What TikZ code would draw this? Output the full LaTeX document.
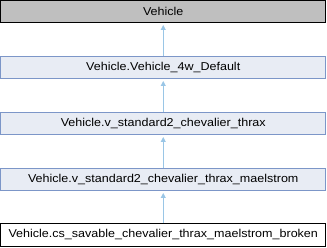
\documentclass[tikz,border=0pt]{standalone}
\usepackage{fontspec}
\setmainfont{Liberation Sans}[FakeStretch=1.1]
\usetikzlibrary{arrows.meta}
\definecolor{classfill}{RGB}{232,236,244}
\definecolor{classedge}{RGB}{124,150,200}
\definecolor{basefill}{RGB}{191,191,191}
\definecolor{inherit}{RGB}{154,198,230}
\begin{document}
\begin{tikzpicture}[x=1pt,y=-1pt,
  cls/.style={draw=classedge, fill=classfill, line width=1pt,
    minimum width=325pt, minimum height=22.5pt, inner sep=0pt,
    font=\fontsize{11.4}{13}\selectfont},
  basecls/.style={cls, draw=black, fill=basefill},
  leafcls/.style={cls, draw=black, fill=white},
  isa/.style={draw=inherit, line width=1pt, shorten >=1.5pt,
    -{Triangle[width=5pt,length=5pt]}}]
\useasboundingbox (0,0) rectangle (327,248);
\node[basecls] (v)  at (163.25,11.75)  {Vehicle};
\node[cls]     (d)  at (163.25,67.75)  {Vehicle.Vehicle\_4w\_Default};
\node[cls]     (t)  at (163.25,123.75) {Vehicle.v\_standard2\_chevalier\_thrax};
\node[cls]     (m)  at (163.25,179.75) {Vehicle.v\_standard2\_chevalier\_thrax\_maelstrom};
\node[leafcls] (b)  at (163.25,235)    {Vehicle.cs\_savable\_chevalier\_thrax\_maelstrom\_broken};
\draw[isa] (d) -- (v);
\draw[isa] (t) -- (d);
\draw[isa] (m) -- (t);
\draw[isa] (b) -- (m);
\end{tikzpicture}
\end{document}
